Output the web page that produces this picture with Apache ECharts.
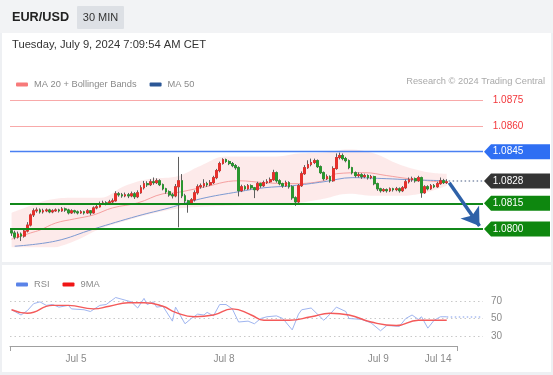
<!DOCTYPE html>
<html><head><meta charset="utf-8">
<script src="https://cdn.jsdelivr.net/npm/echarts/dist/echarts.min.js"></script>
<style>html,body{margin:0;padding:0;background:#fff}#c{width:553px;height:375px}</style>
</head><body><div id="c"></div>
<script>
// ---------- data ----------
// [open, close, low, high] per 30-min candle
const candles = [
[1.07990,1.07977,1.07960,1.08005],[1.07977,1.07953,1.07940,1.07990],[1.07953,1.07971,1.07945,1.07985],[1.07971,1.07959,1.07930,1.07980],
[1.07959,1.07988,1.07950,1.08000],[1.07988,1.08023,1.07980,1.08040],[1.08023,1.08082,1.08015,1.08090],[1.08082,1.08106,1.08070,1.08120],
[1.08106,1.08111,1.08095,1.08125],[1.08111,1.08100,1.08090,1.08120],[1.08100,1.08106,1.08090,1.08118],[1.08106,1.08111,1.08098,1.08120],
[1.08111,1.08100,1.08092,1.08118],[1.08100,1.08106,1.08092,1.08115],[1.08106,1.08111,1.08100,1.08120],[1.08111,1.08106,1.08096,1.08118],
[1.08106,1.08117,1.08100,1.08128],[1.08117,1.08111,1.08100,1.08125],[1.08111,1.08094,1.08085,1.08118],[1.08094,1.08106,1.08088,1.08115],
[1.08106,1.08100,1.08090,1.08112],[1.08100,1.08094,1.08085,1.08108],[1.08094,1.08100,1.08088,1.08110],[1.08100,1.08094,1.08084,1.08106],
[1.08094,1.08106,1.08088,1.08116],[1.08106,1.08094,1.08080,1.08110],[1.08094,1.08123,1.08090,1.08132],[1.08123,1.08129,1.08115,1.08145],
[1.08129,1.08147,1.08125,1.08160],[1.08147,1.08152,1.08140,1.08165],[1.08152,1.08147,1.08138,1.08162],[1.08147,1.08158,1.08140,1.08170],
[1.08158,1.08164,1.08150,1.08178],[1.08164,1.08205,1.08160,1.08220],[1.08205,1.08199,1.08188,1.08215],[1.08199,1.08193,1.08182,1.08210],
[1.08193,1.08199,1.08185,1.08212],[1.08199,1.08193,1.08180,1.08210],[1.08193,1.08205,1.08185,1.08218],[1.08205,1.08188,1.08175,1.08215],
[1.08188,1.08211,1.08180,1.08225],[1.08211,1.08240,1.08205,1.08255],[1.08240,1.08264,1.08230,1.08280],[1.08264,1.08258,1.08245,1.08278],
[1.08258,1.08275,1.08250,1.08290],[1.08275,1.08270,1.08258,1.08300],[1.08270,1.08281,1.08262,1.08295],[1.08281,1.08258,1.08250,1.08290],
[1.08258,1.08234,1.08225,1.08265],[1.08234,1.08217,1.08205,1.08240],[1.08217,1.08199,1.08188,1.08225],[1.08199,1.08193,1.08178,1.08210],
[1.08193,1.08246,1.08185,1.08262],[1.08246,1.08281,1.08010,1.08420],[1.08281,1.08193,1.08180,1.08320],[1.08193,1.08164,1.08150,1.08205],
[1.08164,1.08152,1.08095,1.08170],[1.08152,1.08170,1.08140,1.08180],[1.08170,1.08211,1.08160,1.08225],[1.08211,1.08246,1.08200,1.08260],
[1.08246,1.08252,1.08235,1.08265],[1.08252,1.08264,1.08240,1.08290],[1.08264,1.08258,1.08245,1.08275],[1.08258,1.08270,1.08250,1.08285],
[1.08270,1.08299,1.08262,1.08310],[1.08299,1.08340,1.08290,1.08350],[1.08340,1.08381,1.08330,1.08392],[1.08381,1.08404,1.08375,1.08412],
[1.08404,1.08393,1.08385,1.08410],[1.08393,1.08381,1.08372,1.08400],[1.08381,1.08369,1.08360,1.08390],[1.08369,1.08357,1.08345,1.08378],
[1.08357,1.08223,1.08190,1.08365],[1.08223,1.08246,1.08215,1.08258],[1.08246,1.08234,1.08225,1.08255],[1.08234,1.08252,1.08228,1.08262],
[1.08252,1.08240,1.08230,1.08260],[1.08240,1.08229,1.08180,1.08245],[1.08229,1.08264,1.08220,1.08275],[1.08264,1.08252,1.08240,1.08270],
[1.08252,1.08270,1.08245,1.08282],[1.08270,1.08275,1.08262,1.08290],[1.08275,1.08287,1.08268,1.08300],[1.08287,1.08328,1.08280,1.08345],
[1.08328,1.08281,1.08270,1.08335],[1.08281,1.08264,1.08255,1.08290],[1.08264,1.08252,1.08240,1.08270],[1.08252,1.08270,1.08245,1.08282],
[1.08270,1.08246,1.08235,1.08278],[1.08246,1.08182,1.08170,1.08255],[1.08182,1.08158,1.08135,1.08190],[1.08158,1.08252,1.08150,1.08262],
[1.08252,1.08322,1.08245,1.08335],[1.08322,1.08357,1.08315,1.08372],[1.08357,1.08375,1.08350,1.08400],[1.08375,1.08387,1.08365,1.08410],
[1.08387,1.08398,1.08378,1.08410],[1.08398,1.08363,1.08355,1.08405],[1.08363,1.08328,1.08320,1.08370],[1.08328,1.08293,1.08282,1.08335],
[1.08293,1.08305,1.08285,1.08318],[1.08305,1.08281,1.08270,1.08312],[1.08281,1.08352,1.08275,1.08365],[1.08352,1.08416,1.08345,1.08440],
[1.08416,1.08428,1.08405,1.08445],[1.08428,1.08410,1.08400,1.08440],[1.08410,1.08398,1.08388,1.08420],[1.08398,1.08357,1.08348,1.08405],
[1.08357,1.08328,1.08318,1.08362],[1.08328,1.08311,1.08300,1.08335],[1.08311,1.08316,1.08300,1.08330],[1.08316,1.08305,1.08292,1.08325],
[1.08305,1.08311,1.08296,1.08322],[1.08311,1.08299,1.08288,1.08318],[1.08299,1.08305,1.08290,1.08315],[1.08305,1.08264,1.08255,1.08310],
[1.08264,1.08234,1.08222,1.08270],[1.08234,1.08223,1.08212,1.08240],[1.08223,1.08229,1.08215,1.08238],[1.08229,1.08223,1.08212,1.08236],
[1.08223,1.08234,1.08215,1.08242],[1.08234,1.08229,1.08218,1.08240],[1.08229,1.08234,1.08220,1.08245],[1.08234,1.08223,1.08212,1.08242],
[1.08223,1.08240,1.08215,1.08250],[1.08240,1.08275,1.08232,1.08288],[1.08275,1.08287,1.08265,1.08300],[1.08287,1.08293,1.08275,1.08305],
[1.08293,1.08281,1.08270,1.08300],[1.08281,1.08299,1.08275,1.08310],[1.08299,1.08211,1.08182,1.08305],[1.08211,1.08246,1.08205,1.08255],
[1.08246,1.08234,1.08225,1.08255],[1.08234,1.08252,1.08228,1.08262],[1.08252,1.08246,1.08238,1.08262],[1.08246,1.08264,1.08240,1.08275],
[1.08264,1.08281,1.08258,1.08300],[1.08281,1.08270,1.08262,1.08292],[1.08270,1.08275,1.08262,1.08290]
];
// [candle index, value]
const ma20 = [[0,1.07941],[6,1.07977],[9,1.07994],[14,1.08035],[20,1.08059],[26,1.08082],[32,1.08123],[40,1.08152],[48,1.08205],[52,1.08211],[60,1.08240],[72,1.08281],[80,1.08270],[88,1.08264],[99,1.08281],[103,1.08322],[112,1.08328],[119,1.08311],[126,1.08293],[138,1.08270]];
const ma50 = [[1,1.07900],[14,1.07930],[26,1.08000],[40,1.08076],[50,1.08123],[60,1.08176],[72,1.08217],[80,1.08240],[89,1.08252],[99,1.08275],[108,1.08299],[119,1.08293],[126,1.08287],[138,1.08281]];
const bandIdx   = [0,6,12,20,28,36,44,52,60,68,76,84,91,99,107,115,123,131,138];
const bbUpper   = [1.08094,1.08135,1.08170,1.08182,1.08182,1.08252,1.08293,1.08305,1.08369,1.08422,1.08422,1.08422,1.08439,1.08445,1.08463,1.08439,1.08375,1.08334,1.08322];
const bbLower   = [1.07871,1.07871,1.07883,1.07930,1.08000,1.08047,1.08088,1.08117,1.08129,1.08135,1.08141,1.08147,1.08152,1.08176,1.08205,1.08193,1.08193,1.08211,1.08252];
const rsi = [[0,60],[3,54],[5,59],[7,67],[9,69],[11,65],[13,66],[15,63],[18,65],[19,61],[23,60],[25,58],[28,65],[30,66],[33,74],[35,72],[38,69],[40,62],[42,73],[43,66],[45,69],[46,63],[48,64],[51,47],[52,63],[55,44],[57,50],[59,55],[61,54],[62,57],[64,53],[66,66],[68,66],[70,61],[72,46],[75,47],[77,44],[79,50],[81,52],[84,53],[86,50],[89,37],[91,55],[92,60],[95,62],[97,55],[99,48],[101,55],[103,63],[106,58],[107,50],[111,49],[114,45],[117,36],[119,42],[123,41],[125,50],[127,54],[129,49],[130,52],[132,39],[134,48],[136,52],[138,52]];
const rsiMA = [[0,60],[5,56],[13,65],[18,65],[26,61],[31,64],[37,68],[42,68],[48,64],[52,57],[58,52],[64,54],[70,61],[76,54],[80,48],[88,48],[95,52],[101,56],[107,54],[114,46],[122,42],[129,48],[135,48],[138,48]];
const levelValues = [1.0875, 1.0860, 1.0845, 1.0828, 1.0815, 1.0800];
const lastPrice = 1.0828;
const targetPrice = 1.0800;
const lastRsi = 52;
const tickLabels = ['Jul 5', 'Jul 8', 'Jul 9', 'Jul 14'];
const tickSlots  = [21, 68, 117, 136];

// ---------- styles ----------
const FONT = '"Liberation Sans", Arial, Helvetica, sans-serif';
const UP = '#e5302c', DOWN = '#2a962f', WICK = '#5f5f5f';
const levelStyle = [
  {line:'#f8a9a9', w:1,   box:null,      text:'#f2373b'},
  {line:'#f8a9a9', w:1,   box:null,      text:'#f2373b'},
  {line:'#4a80f2', w:1.4, box:'#2f6ff3', text:'#ffffff'},
  {line:null,      w:0,   box:'#343434', text:'#ffffff'},
  {line:'#11881a', w:2,   box:'#0e870f', text:'#ffffff'},
  {line:'#11881a', w:2,   box:'#0e870f', text:'#ffffff'}
];

const N = 150;                       // slots on the price / rsi axes
const slots = Array.from({length: N}, (_, i) => String(i));
const last = candles.length - 1;
const bottomCats = Array.from({length: 143}, () => '');
tickSlots.forEach((s, i) => { bottomCats[s] = tickLabels[i]; });

const bodies = candles.map(d => [d[0], d[1], Math.min(d[0], d[1]), Math.max(d[0], d[1])]);
const lowerPts = bandIdx.map((x, i) => [x, bbLower[i]]);
const diffPts  = bandIdx.map((x, i) => [x, bbUpper[i] - bbLower[i]]);

const tagPath = 'path://M0,7.5 L7,0 L66,0 L66,15 L7,15 Z';

// one 'lines' series per level, on a hidden value x-axis spanning the full plot width (0..N slots)
const levelSeries = [];
levelValues.forEach((v, i) => {
  const s = levelStyle[i];
  if (!s.line) return;
  levelSeries.push({name:'level' + i, type:'lines', coordinateSystem:'cartesian2d', xAxisIndex:3, yAxisIndex:0,
    data:[{coords:[[0, v], [N, v]]}], symbol:['none','none'], silent:true, z:6, clip:false,
    lineStyle:{color:s.line, width:s.w, type:'solid', opacity:1}});
});

const chart = echarts.init(document.getElementById('c'), null, {renderer: 'canvas'});
chart.setOption({
  animation: false,
  backgroundColor: '#eef0f3',
  textStyle: {fontFamily: FONT},
  graphic: [
    {type:'rect', shape:{x:0, y:0, width:553, height:33}, style:{fill:'#f2f3f5'}, z:0},
    {type:'rect', shape:{x:2, y:33, width:549, height:229}, style:{fill:'#ffffff'}, z:0},
    {type:'rect', shape:{x:2, y:265, width:549, height:107}, style:{fill:'#ffffff'}, z:0},
    {type:'text', left:12, top:11, style:{text:'EUR/USD', font:'bold 12.7px ' + FONT, fill:'#222'}, z:10},
    {type:'rect', shape:{x:77, y:6, width:47, height:23, r:1}, style:{fill:'#dde0e5'}, z:5},
    {type:'text', x:100.5, y:17.5, style:{text:'30 MIN', font:'11px ' + FONT, fill:'#333', align:'center', verticalAlign:'middle'}, z:10},
    {type:'text', x:12, y:44.5, style:{text:'Tuesday, July 9, 2024 7:09:54 AM CET', font:'11.2px ' + FONT, fill:'#333', verticalAlign:'middle'}, z:10},
    {type:'text', x:545, y:81, style:{text:'Research \u00a9 2024 Trading Central', font:'9.3px ' + FONT, fill:'#a9a9a9', align:'right', verticalAlign:'middle'}, z:10}
  ],
  legend: [
    {left:11, top:75, itemWidth:12, itemHeight:4, itemGap:13, selectedMode:false, icon:'roundRect',
     textStyle:{fontSize:9.3, color:'#8a8a8a', fontFamily:FONT, padding:[0,0,0,1]},
     data:[{name:'MA 20 + Bollinger Bands', itemStyle:{color:'#f77a7a'}}, {name:'MA 50', itemStyle:{color:'#2b5796'}}]},
    {left:11, top:275, itemWidth:12, itemHeight:4, itemGap:13, selectedMode:false, icon:'roundRect',
     textStyle:{fontSize:9.3, color:'#8a8a8a', fontFamily:FONT, padding:[0,0,0,1]},
     data:[{name:'RSI', itemStyle:{color:'#5a83e8'}}, {name:'9MA', itemStyle:{color:'#f01515'}}]}
  ],
  grid: [
    {left:10, width:473, top:91.6, height:154.6, outerBoundsMode:'none', containLabel:false},
    {left:10, width:473, top:301, height:35, outerBoundsMode:'none', containLabel:false},
    {left:10, width:447, top:340, height:6, outerBoundsMode:'none', containLabel:false}
  ],
  xAxis: [
    {type:'category', gridIndex:0, data:slots, boundaryGap:true, show:false},
    {type:'category', gridIndex:1, data:slots, boundaryGap:true, show:false},
    {type:'category', gridIndex:2, data:bottomCats, boundaryGap:false,
     axisLine:{show:true, lineStyle:{color:'#a0a0a0', width:1}},
     axisTick:{show:true, length:5, lineStyle:{color:'#a0a0a0'}, interval:(i) => i === 0 || i === bottomCats.length - 1},
     axisLabel:{show:true, interval:(i, v) => v !== '', color:'#8a8a8a', fontSize:10, fontFamily:FONT, margin:8},
     splitLine:{show:false}},
    {type:'value', gridIndex:0, min:0, max:N, show:false, splitLine:{show:false}}
  ],
  yAxis: [
    {type:'value', gridIndex:0, min:1.0790, max:1.0880, show:false, scale:true},
    {type:'value', gridIndex:1, min:30, max:70, interval:20, position:'right',
     axisLine:{show:false}, axisTick:{show:false},
     axisLabel:{color:'#8a8a8a', fontSize:10, fontFamily:FONT, margin:8},
     splitLine:{show:true, lineStyle:{color:'#c9c9c9', type:[1.5,3], width:1}}},
    {type:'value', gridIndex:2, show:false}
  ],
  series: [
    {name:'bbLower', type:'line', xAxisIndex:0, yAxisIndex:0, data:lowerPts, stack:'bb', smooth:0.4,
     symbol:'none', lineStyle:{opacity:0}, silent:true, z:1},
    {name:'bbBand', type:'line', xAxisIndex:0, yAxisIndex:0, data:diffPts, stack:'bb', smooth:0.4,
     symbol:'none', lineStyle:{opacity:0}, areaStyle:{color:'rgba(250,190,190,0.45)'}, silent:true, z:1},
    {name:'MA 20 + Bollinger Bands', type:'line', xAxisIndex:0, yAxisIndex:0, data:ma20, smooth:0.4,
     symbol:'none', lineStyle:{color:'#f5a0a0', width:1}, silent:true, z:2},
    {name:'MA 50', type:'line', xAxisIndex:0, yAxisIndex:0, data:ma50, smooth:0.4,
     symbol:'none', lineStyle:{color:'#7d9ad2', width:1}, silent:true, z:2, clip:false},
    {name:'wicks', type:'candlestick', xAxisIndex:0, yAxisIndex:0, data:candles, barWidth:2.2, silent:true, z:3,
     itemStyle:{color:WICK, color0:WICK, borderColor:WICK, borderColor0:WICK, borderWidth:1}},
    {name:'bodies', type:'candlestick', xAxisIndex:0, yAxisIndex:0, data:bodies, barWidth:2.2, silent:true, z:4,
     itemStyle:{color:UP, color0:DOWN, borderColor:UP, borderColor0:DOWN, borderWidth:1}},
    ...levelSeries,
    {name:'lastDots', type:'lines', coordinateSystem:'cartesian2d', xAxisIndex:3, yAxisIndex:0,
     data:[{coords:[[last + 1.1, lastPrice], [N, lastPrice]]}], symbol:['none','none'], silent:true, z:6, clip:false,
     lineStyle:{color:'#8593ad', width:1.5, type:[1.5,2.5], opacity:1}},
    {name:'forecast', type:'lines', coordinateSystem:'cartesian2d', xAxisIndex:3, yAxisIndex:0,
     data:[{coords:[[last + 1.3, lastPrice - 0.0001], [N - 1.1, targetPrice + 0.00018]]}],
     symbol:['none','arrow'], symbolSize:[15, 17], lineStyle:{color:'#2e61a8', width:3.5, type:'solid', opacity:1},
     silent:true, z:7, clip:false},
    {name:'levels', type:'line', xAxisIndex:0, yAxisIndex:0, data:[], silent:true, z:8, clip:false,
     markPoint:{silent:true, animation:false,
       data: levelValues.map((v, i) => ({
         coord:[N - 1, v], value:v, symbol:tagPath, symbolSize:[66, 15], symbolOffset:[35.6, 0],
         itemStyle:{color: levelStyle[i].box || 'rgba(0,0,0,0)'},
         label:{show:true, formatter: v.toFixed(4), color: levelStyle[i].text, fontSize:10, fontFamily:FONT, offset:[-9, 0]}
       }))}
    },
    {name:'RSI', type:'line', xAxisIndex:1, yAxisIndex:1, data:rsi, symbol:'none', clip:false,
     lineStyle:{color:'#9fb5f0', width:1}, silent:true, z:3,
     markLine:{silent:true, symbol:['none','none'], label:{show:false}, animation:false,
       data:[[{coord:[last, lastRsi], lineStyle:{color:'#a9bdf2', width:1.5, type:[1.5,2.5]}}, {coord:[N - 0.6, lastRsi]}]]}},
    {name:'9MA', type:'line', xAxisIndex:1, yAxisIndex:1, data:rsiMA, symbol:'none', smooth:0.5, clip:false,
     lineStyle:{color:'#f45a5a', width:1.4}, silent:true, z:4}
  ]
});
</script>
</body></html>
